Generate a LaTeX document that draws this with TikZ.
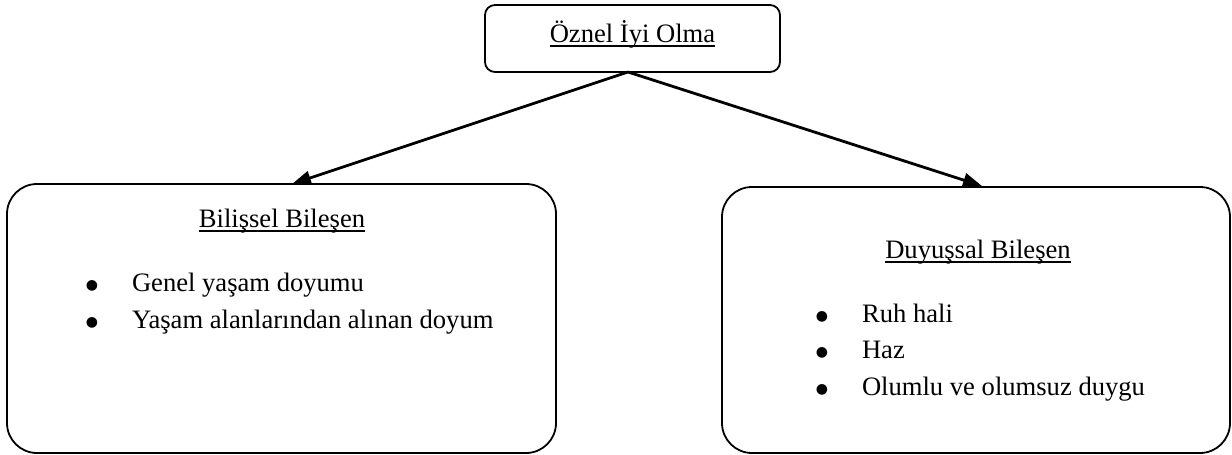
\documentclass[tikz,border=0pt]{standalone}
\usepackage{fontspec}
\setmainfont{Liberation Serif}
\newfontfamily\bulfont{DejaVu Sans}
\usetikzlibrary{arrows.meta}
\newcommand\ulinetxt[1]{\setbox0\hbox{#1}\rlap{\rule[-4.5pt]{\wd0}{1.6pt}}\box0}
\newcommand\bigbul{\raisebox{2pt}{\bulfont\fontsize{14}{14}\selectfont ●}}
\begin{document}
\begin{tikzpicture}[x=1pt,y=-1pt,
  boxnode/.style={draw=black, fill=white, line width=1.8pt, inner sep=0pt, outer sep=0pt},
  lbl/.style={inner sep=0pt, outer sep=0pt, font=\fontsize{26.6}{32}\selectfont},
  arr/.style={line width=2.8pt, -{Triangle[length=19pt,width=14pt]}}]
\useasboundingbox (0,0) rectangle (1232,455);
% boxes
\node[boxnode, rounded corners=10pt, minimum width=295pt, minimum height=67pt] (top) at (632.5,38.5) {};
\node[boxnode, rounded corners=30pt, minimum width=549pt, minimum height=269pt] (lbox) at (281.5,318.5) {};
\node[boxnode, rounded corners=30pt, minimum width=508pt, minimum height=266pt] (rbox) at (976,320) {};
% connector end points
\coordinate (src) at (628,72);
\coordinate (ltip) at (292,184);
\coordinate (rtip) at (982,186);
\draw[arr] (src) -- (ltip);
\draw[arr] (src) -- (rtip);
% texts
\node[lbl, anchor=base] (toptxt) at (632.5,42) {\ulinetxt{Öznel İyi Olma}};
\node[lbl, anchor=base] (ltitle) at (282,227) {\ulinetxt{Bilişsel Bileşen}};
\node[lbl, anchor=base] (lb1) at (92,291) {\bigbul};
\node[lbl, anchor=base west] (lt1) at (132,291) {Genel yaşam doyumu};
\node[lbl, anchor=base] (lb2) at (92,328) {\bigbul};
\node[lbl, anchor=base west] (lt2) at (132,328) {Yaşam alanlarından alınan doyum};
\node[lbl, anchor=base] (rtitle) at (978,258) {\ulinetxt{Duyuşsal Bileşen}};
\node[lbl, anchor=base] (rb1) at (822,322) {\bigbul};
\node[lbl, anchor=base west] (rt1) at (862,322) {Ruh hali};
\node[lbl, anchor=base] (rb2) at (822,358) {\bigbul};
\node[lbl, anchor=base west] (rt2) at (862,358) {Haz};
\node[lbl, anchor=base] (rb3) at (822,395) {\bigbul};
\node[lbl, anchor=base west] (rt3) at (862,395) {Olumlu ve olumsuz duygu};
\end{tikzpicture}
\end{document}
